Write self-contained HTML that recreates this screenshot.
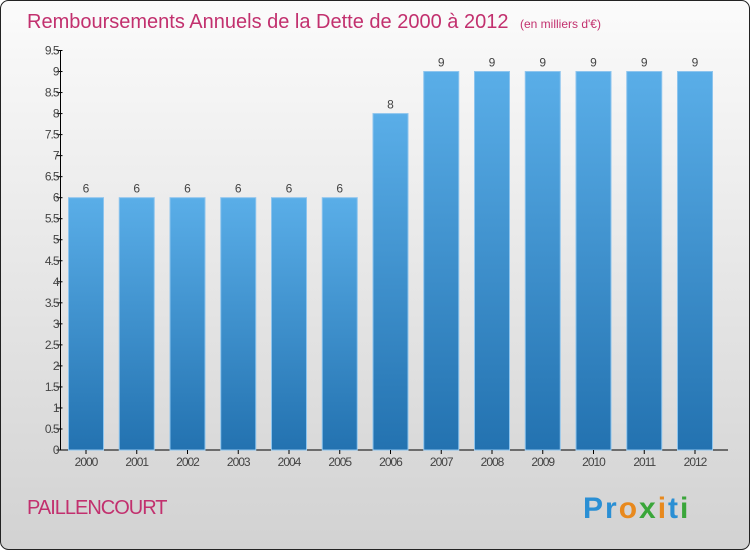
<!DOCTYPE html>
<html><head><meta charset="utf-8"><style>
body{margin:0;width:750px;height:550px;overflow:hidden;font-family:"Liberation Sans",sans-serif}
</style></head><body>
<svg width="750" height="550" viewBox="0 0 750 550">
<defs>
<linearGradient id="bg" x1="0" y1="0" x2="0" y2="1"><stop offset="0" stop-color="#fbfbfb"/><stop offset="1" stop-color="#d2d2d2"/></linearGradient>
<linearGradient id="bar" x1="0" y1="0" x2="0" y2="1"><stop offset="0" stop-color="#5aaee8"/><stop offset="1" stop-color="#2372b0"/></linearGradient>
</defs>
<rect x="0.5" y="0.5" width="749" height="549" rx="8" fill="url(#bg)" stroke="#222"/>
<text x="27" y="28" font-size="20" fill="#c2306e">Remboursements Annuels de la Dette de 2000 à 2012 <tspan font-size="12" dx="6">(en milliers d'€)</tspan></text>
<g id="yaxis"></g>
<g id="bars"></g>
<text x="27" y="514" font-size="20" fill="#c2306e" letter-spacing="-1">PAILLENCOURT</text>
<text x="583" y="518" font-size="30" font-weight="bold" letter-spacing="2"><tspan fill="#2a8fd4">Pr</tspan><tspan fill="#e8891d">o</tspan><tspan fill="#3aa63a">x</tspan><tspan fill="#e8891d">i</tspan><tspan fill="#2a8fd4">t</tspan><tspan fill="#3aa63a">i</tspan></text>
</svg>
<script>
const years=["2000","2001","2002","2003","2004","2005","2006","2007","2008","2009","2010","2011","2012"];
const values=[6,6,6,6,6,6,8,9,9,9,9,9,9];
const ticks=[0,0.5,1,1.5,2,2.5,3,3.5,4,4.5,5,5.5,6,6.5,7,7.5,8,8.5,9,9.5];
const NS="http://www.w3.org/2000/svg";
const y0=450,yTop=50.5,vmax=9.5,x0=60.5,step=50.75,c0=86,bw=35;
const Y=v=>y0-(v/vmax)*(y0-yTop);
const X=i=>c0+i*step;
function mk(t,a,p){const e=document.createElementNS(NS,t);for(const k in a)e.setAttribute(k,a[k]);p.appendChild(e);return e;}
const ya=document.getElementById('yaxis'),bg=document.getElementById('bars');
let ax=mk('line',{x1:x0,y1:yTop,x2:x0,y2:y0,stroke:'#000'},ya);


let xl=mk('line',{x1:x0,y1:y0,x2:728,y2:y0,stroke:'#000'},ya);


ticks.forEach(t=>{
 const tk=mk('line',{x1:x0-4,y1:Y(t),x2:x0+2,y2:Y(t),stroke:'#000'},ya);
 
 
 const tx=mk('text',{x:x0-2,y:Y(t)+4,'font-size':12,fill:'#444','text-anchor':'end','letter-spacing':'-1'},ya);
 tx.textContent=String(t);
 
 
});
values.forEach((v,i)=>{
 const r=mk('rect',{x:X(i)-bw/2,y:Y(v),width:bw,height:y0-Y(v),fill:'url(#bar)',stroke:'#8cc4ee','stroke-width':1},bg);
 
 
 const l=mk('text',{x:X(i),y:Y(v)-5,'font-size':12,fill:'#444','text-anchor':'middle'},bg);
 l.textContent=String(v);
 
 
 const tk=mk('line',{x1:X(i),y1:y0,x2:X(i),y2:y0+4,stroke:'#000'},bg);
 
 
 const xt=mk('text',{x:X(i),y:y0+16,'font-size':12,fill:'#444','text-anchor':'middle','letter-spacing':'-1'},bg);
 xt.textContent=years[i];
 
 
});
</script>
</body></html>
